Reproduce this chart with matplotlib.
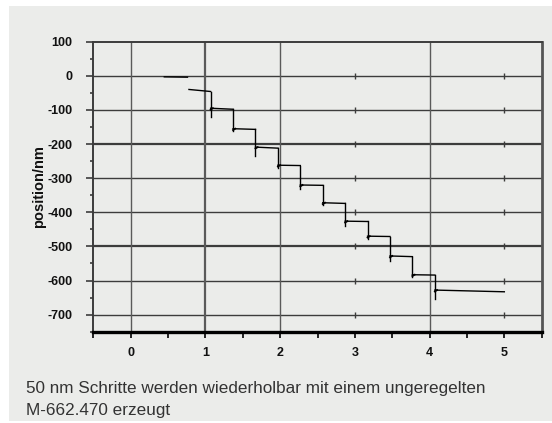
import numpy as np
import matplotlib.pyplot as plt
from matplotlib.patches import Rectangle

# step data (position in nm)
seg_start = [0.45, 0.78, 1.07, 1.37, 1.67, 1.97, 2.27, 2.57, 2.87, 3.17, 3.47, 3.77, 4.07]
seg_end = [0.76, 1.07, 1.37, 1.67, 1.97, 2.27, 2.57, 2.87, 3.17, 3.47, 3.77, 4.07, 5.0]
level_start = [-3, -40, -95, -155, -209, -262, -320, -372, -426, -470, -528, -583, -628]
level_end = [-4, -46, -98, -157, -212, -263, -321, -374, -427, -471, -530, -584, -633]
# overshoot at the start of each step (None = no connecting edge)
overshoot = [None, None, -120, -161, -236, -269, -333, -378, -440, -478, -542, -589, -653]

yticks = [100, 0, -100, -200, -300, -400, -500, -600, -700]
xticks = [0, 1, 2, 3, 4, 5]
caption = ["50 nm Schritte werden wiederholbar mit einem ungeregelten",
           "M-662.470 erzeugt"]

bg = '#ebecea'
grid_c = '#3c3c3c'

fig = plt.figure(figsize=(5.52, 4.23), dpi=100)
fig.patch.set_facecolor('white')
fig.patches.append(Rectangle((9/552, 2/423), 1, 415/423, transform=fig.transFigure,
                             facecolor=bg, edgecolor='none', zorder=-10))

ax = fig.add_axes([93.3/552, 1 - 331.7/423, 448.4/552, 290/423])
ax.set_facecolor(bg)
ax.set_xlim(-0.5, 5.5)
ax.set_ylim(-750, 100)

# grid - the scan only shows full vertical lines at 0,1,2,4
for y in yticks[1:]:
    lw = 1.6 if y in (-200, -500) else 1.0
    ax.axhline(y, color=grid_c, lw=lw, zorder=1)
for x in [0, 1, 2, 4]:
    lw = 1.6 if x == 1 else 1.0
    ax.axvline(x, color='#5a5a5a', lw=lw, zorder=1)
for x in [3, 5]:
    ax.plot([x]*len(yticks[1:]), yticks[1:], ls='none', marker='|', ms=4,
            mew=1, color=grid_c, zorder=1)

# steps
for i in range(len(seg_start)):
    ax.plot([seg_start[i], seg_end[i]], [level_start[i], level_end[i]],
            color='black', lw=1.0, zorder=3)
    if overshoot[i] is not None:
        ax.plot([seg_start[i], seg_start[i]], [level_end[i-1], overshoot[i]],
                color='black', lw=1.0, zorder=3)
        ax.plot([seg_start[i], seg_start[i] + 0.03], [level_start[i] - 4, level_start[i]],
                color='black', lw=1.3, zorder=3)

for s in ['left', 'top']:
    ax.spines[s].set_color(grid_c)
    ax.spines[s].set_linewidth(1.4)
ax.spines['right'].set_color('#555555')
ax.spines['right'].set_linewidth(2.0)
ax.spines['bottom'].set_color('black')
ax.spines['bottom'].set_linewidth(2.4)

ax.set_yticks(yticks)
ax.set_yticks(np.arange(-750, 100, 50), minor=True)
ax.set_xticks(xticks)
ax.set_xticks(np.arange(-0.5, 5.6, 0.5), minor=True)
ax.set_xticklabels([str(x) for x in xticks])
ax.set_yticklabels([str(y) for y in yticks])
ax.tick_params(axis='y', which='major', length=5, width=1.2, color=grid_c, pad=10)
ax.tick_params(axis='y', which='minor', length=2.5, width=1.2, color=grid_c)
ax.tick_params(axis='x', which='both', length=4, width=1.2, color='black', pad=7)
for lab in ax.get_xticklabels() + ax.get_yticklabels():
    lab.set_fontfamily('Liberation Sans')
    lab.set_fontweight('bold')
    lab.set_fontsize(9)
    lab.set_color('#111111')

ax.set_ylabel('position/nm', fontfamily='Liberation Sans', fontweight='bold',
              fontsize=10.5, color='#111111', labelpad=1)

fig.text(26/552, 1 - 388/423, caption[0], fontfamily='Liberation Sans',
         fontsize=12.3, color='#333333', va='center', ha='left')
fig.text(26/552, 1 - 410/423, caption[1], fontfamily='Liberation Sans',
         fontsize=12.3, color='#333333', va='center', ha='left')

fig.savefig('out.png', dpi=100, facecolor=fig.get_facecolor())
